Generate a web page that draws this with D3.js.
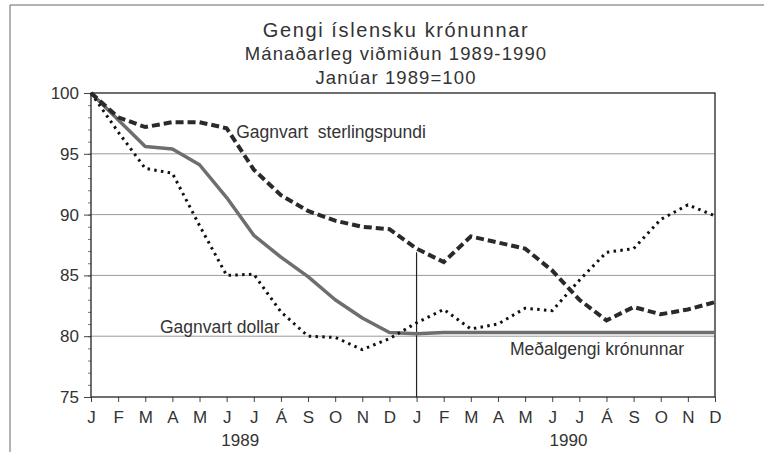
<!DOCTYPE html>
<html>
<head>
<meta charset="utf-8">
<script src="https://cdn.jsdelivr.net/npm/d3@7"></script>
<style>
  body { margin: 0; background: #fff; }
  svg text { font-family: "Liberation Sans", Arial, sans-serif; fill: #333; }
</style>
</head>
<body>
<svg id="chart"></svg>
<script>
// month labels (Icelandic) for both years
const months = ["J", "F", "M", "A", "M", "J", "J", "Á", "S", "O", "N", "D"];
const monthLabels = months.concat(months);
const years = ["1989", "1990"];
const yTicks = [75, 80, 85, 90, 95, 100];
const gridValues = [80, 85, 90, 95];

// index values, January 1989 = 100
const sterlingspund = [100, 98.0, 97.2, 97.6, 97.6, 97.1, 93.7, 91.6, 90.3, 89.5, 89.0, 88.8,
                       87.2, 86.1, 88.2, 87.7, 87.2, 85.4, 83.0, 81.3, 82.4, 81.8, 82.2, 82.8];
const dollar = [100, 96.8, 93.8, 93.4, 89.1, 85.0, 85.1, 82.0, 80.0, 79.9, 78.9, 79.8,
                81.1, 82.2, 80.6, 81.0, 82.3, 82.1, 84.6, 86.9, 87.2, 89.6, 90.8, 89.9];
const medalgengi = [100, 97.8, 95.6, 95.4, 94.1, 91.4, 88.3, 86.5, 84.9, 83.0, 81.5, 80.3,
                    80.2, 80.3, 80.3, 80.3, 80.3, 80.3, 80.3, 80.3, 80.3, 80.3, 80.3, 80.3];

const dimensions = {
    width: 764,
    height: 452,
    margin: { top: 93, right: 49, bottom: 55, left: 91 }
};
const innerW = dimensions.width - dimensions.margin.left - dimensions.margin.right;
const innerH = dimensions.height - dimensions.margin.top - dimensions.margin.bottom;

const root = d3.select("#chart")
    .attr("width", dimensions.width)
    .attr("height", dimensions.height);

// outer frame (top and left edge of the scanned box)
root.append("path")
    .attr("d", "M10,452V5H764")
    .attr("fill", "none")
    .attr("stroke", "#666")
    .attr("stroke-width", 1);

// titles
const titles = [
    { text: "Gengi íslensku krónunnar", y: 37, size: 20, ls: 1.6 },
    { text: "Mánaðarleg viðmiðun 1989-1990", y: 60, size: 18.5, ls: 1.1 },
    { text: "Janúar 1989=100", y: 83.5, size: 18.5, ls: 1.1 }
];
root.selectAll(".title")
    .data(titles)
    .enter()
    .append("text")
    .attr("class", "title")
    .attr("x", 396)
    .attr("y", d => d.y)
    .attr("text-anchor", "middle")
    .style("font-size", d => d.size + "px")
    .style("letter-spacing", d => d.ls + "px")
    .text(d => d.text);

const svg = root.append("g")
    .attr("transform", `translate(${dimensions.margin.left}, ${dimensions.margin.top})`);

const xScale = d3.scaleLinear()
    .domain([0, 23])
    .range([0, innerW]);

const yScale = d3.scaleLinear()
    .domain([75, 100])
    .range([innerH, 0]);

// grid lines
svg.selectAll(".grid")
    .data(gridValues)
    .enter()
    .append("line")
    .attr("class", "grid")
    .attr("x1", 0)
    .attr("x2", innerW)
    .attr("y1", d => yScale(d))
    .attr("y2", d => yScale(d))
    .attr("stroke", "#9a9a9a")
    .attr("stroke-width", 1);

// minor ticks on y axis
svg.append("g")
    .call(d3.axisLeft(yScale).tickValues(d3.range(75, 101, 1)).tickSize(3).tickFormat(""))
    .call(g => g.select(".domain").remove())
    .selectAll("line").attr("stroke", "#777");

// y axis
const yAxis = svg.append("g")
    .call(d3.axisLeft(yScale).tickValues(yTicks).tickSize(7).tickPadding(5).tickFormat(d3.format("d")));
yAxis.select(".domain").remove();
yAxis.selectAll("line").attr("stroke", "#444");
yAxis.selectAll("text")
    .style("font-size", "17px")
    .style("font-family", "Liberation Sans, Arial, sans-serif")
    .attr("fill", "#333");

// x axis
const xAxis = svg.append("g")
    .attr("transform", `translate(0, ${innerH})`)
    .call(d3.axisBottom(xScale).tickValues(d3.range(0, 24)).tickSize(5).tickPadding(9)
        .tickFormat(i => monthLabels[i]));
xAxis.select(".domain").remove();
xAxis.selectAll("line").attr("stroke", "#444");
xAxis.selectAll("text")
    .style("font-size", "17px")
    .style("font-family", "Liberation Sans, Arial, sans-serif")
    .attr("fill", "#333");

// year labels
svg.selectAll(".year")
    .data(years)
    .enter()
    .append("text")
    .attr("class", "year")
    .attr("x", (d, i) => xScale(i === 0 ? 5.5 : 17.6))
    .attr("y", innerH + 49)
    .attr("text-anchor", "middle")
    .style("font-size", "17px")
    .text(d => d);

// plot frame
svg.append("rect")
    .attr("width", innerW)
    .attr("height", innerH)
    .attr("fill", "none")
    .attr("stroke", "#222")
    .attr("stroke-width", 1.3);

// year divider
svg.append("line")
    .attr("x1", xScale(12))
    .attr("x2", xScale(12))
    .attr("y1", yScale(86.9))
    .attr("y2", innerH)
    .attr("stroke", "#222")
    .attr("stroke-width", 1.2);

const line = d3.line()
    .x((d, i) => xScale(i))
    .y(d => yScale(d));

svg.append("path")
    .datum(medalgengi)
    .attr("d", line)
    .attr("fill", "none")
    .attr("stroke", "#6e6e6e")
    .attr("stroke-width", 3.5)
    .attr("stroke-linejoin", "round");

svg.append("path")
    .datum(dollar)
    .attr("d", line)
    .attr("fill", "none")
    .attr("stroke", "#111")
    .attr("stroke-width", 3)
    .attr("stroke-dasharray", "2.5,4.3");

svg.append("path")
    .datum(sterlingspund)
    .attr("d", line)
    .attr("fill", "none")
    .attr("stroke", "#2a2a2a")
    .attr("stroke-width", 4)
    .attr("stroke-dasharray", "8,4");

// series labels
const labels = [
    { text: "Gagnvart  sterlingspundi", i: 5.35, v: 96.3 },
    { text: "Gagnvart dollar", i: 2.54, v: 80.3 },
    { text: "Meðalgengi krónunnar", i: 15.44, v: 78.45 }
];
svg.selectAll(".label")
    .data(labels)
    .enter()
    .append("text")
    .attr("class", "label")
    .attr("x", d => xScale(d.i))
    .attr("y", d => yScale(d.v))
    .style("font-size", "17.5px")
    .style("white-space", "pre")
    .attr("xml:space", "preserve")
    .text(d => d.text);
</script>
</body>
</html>
